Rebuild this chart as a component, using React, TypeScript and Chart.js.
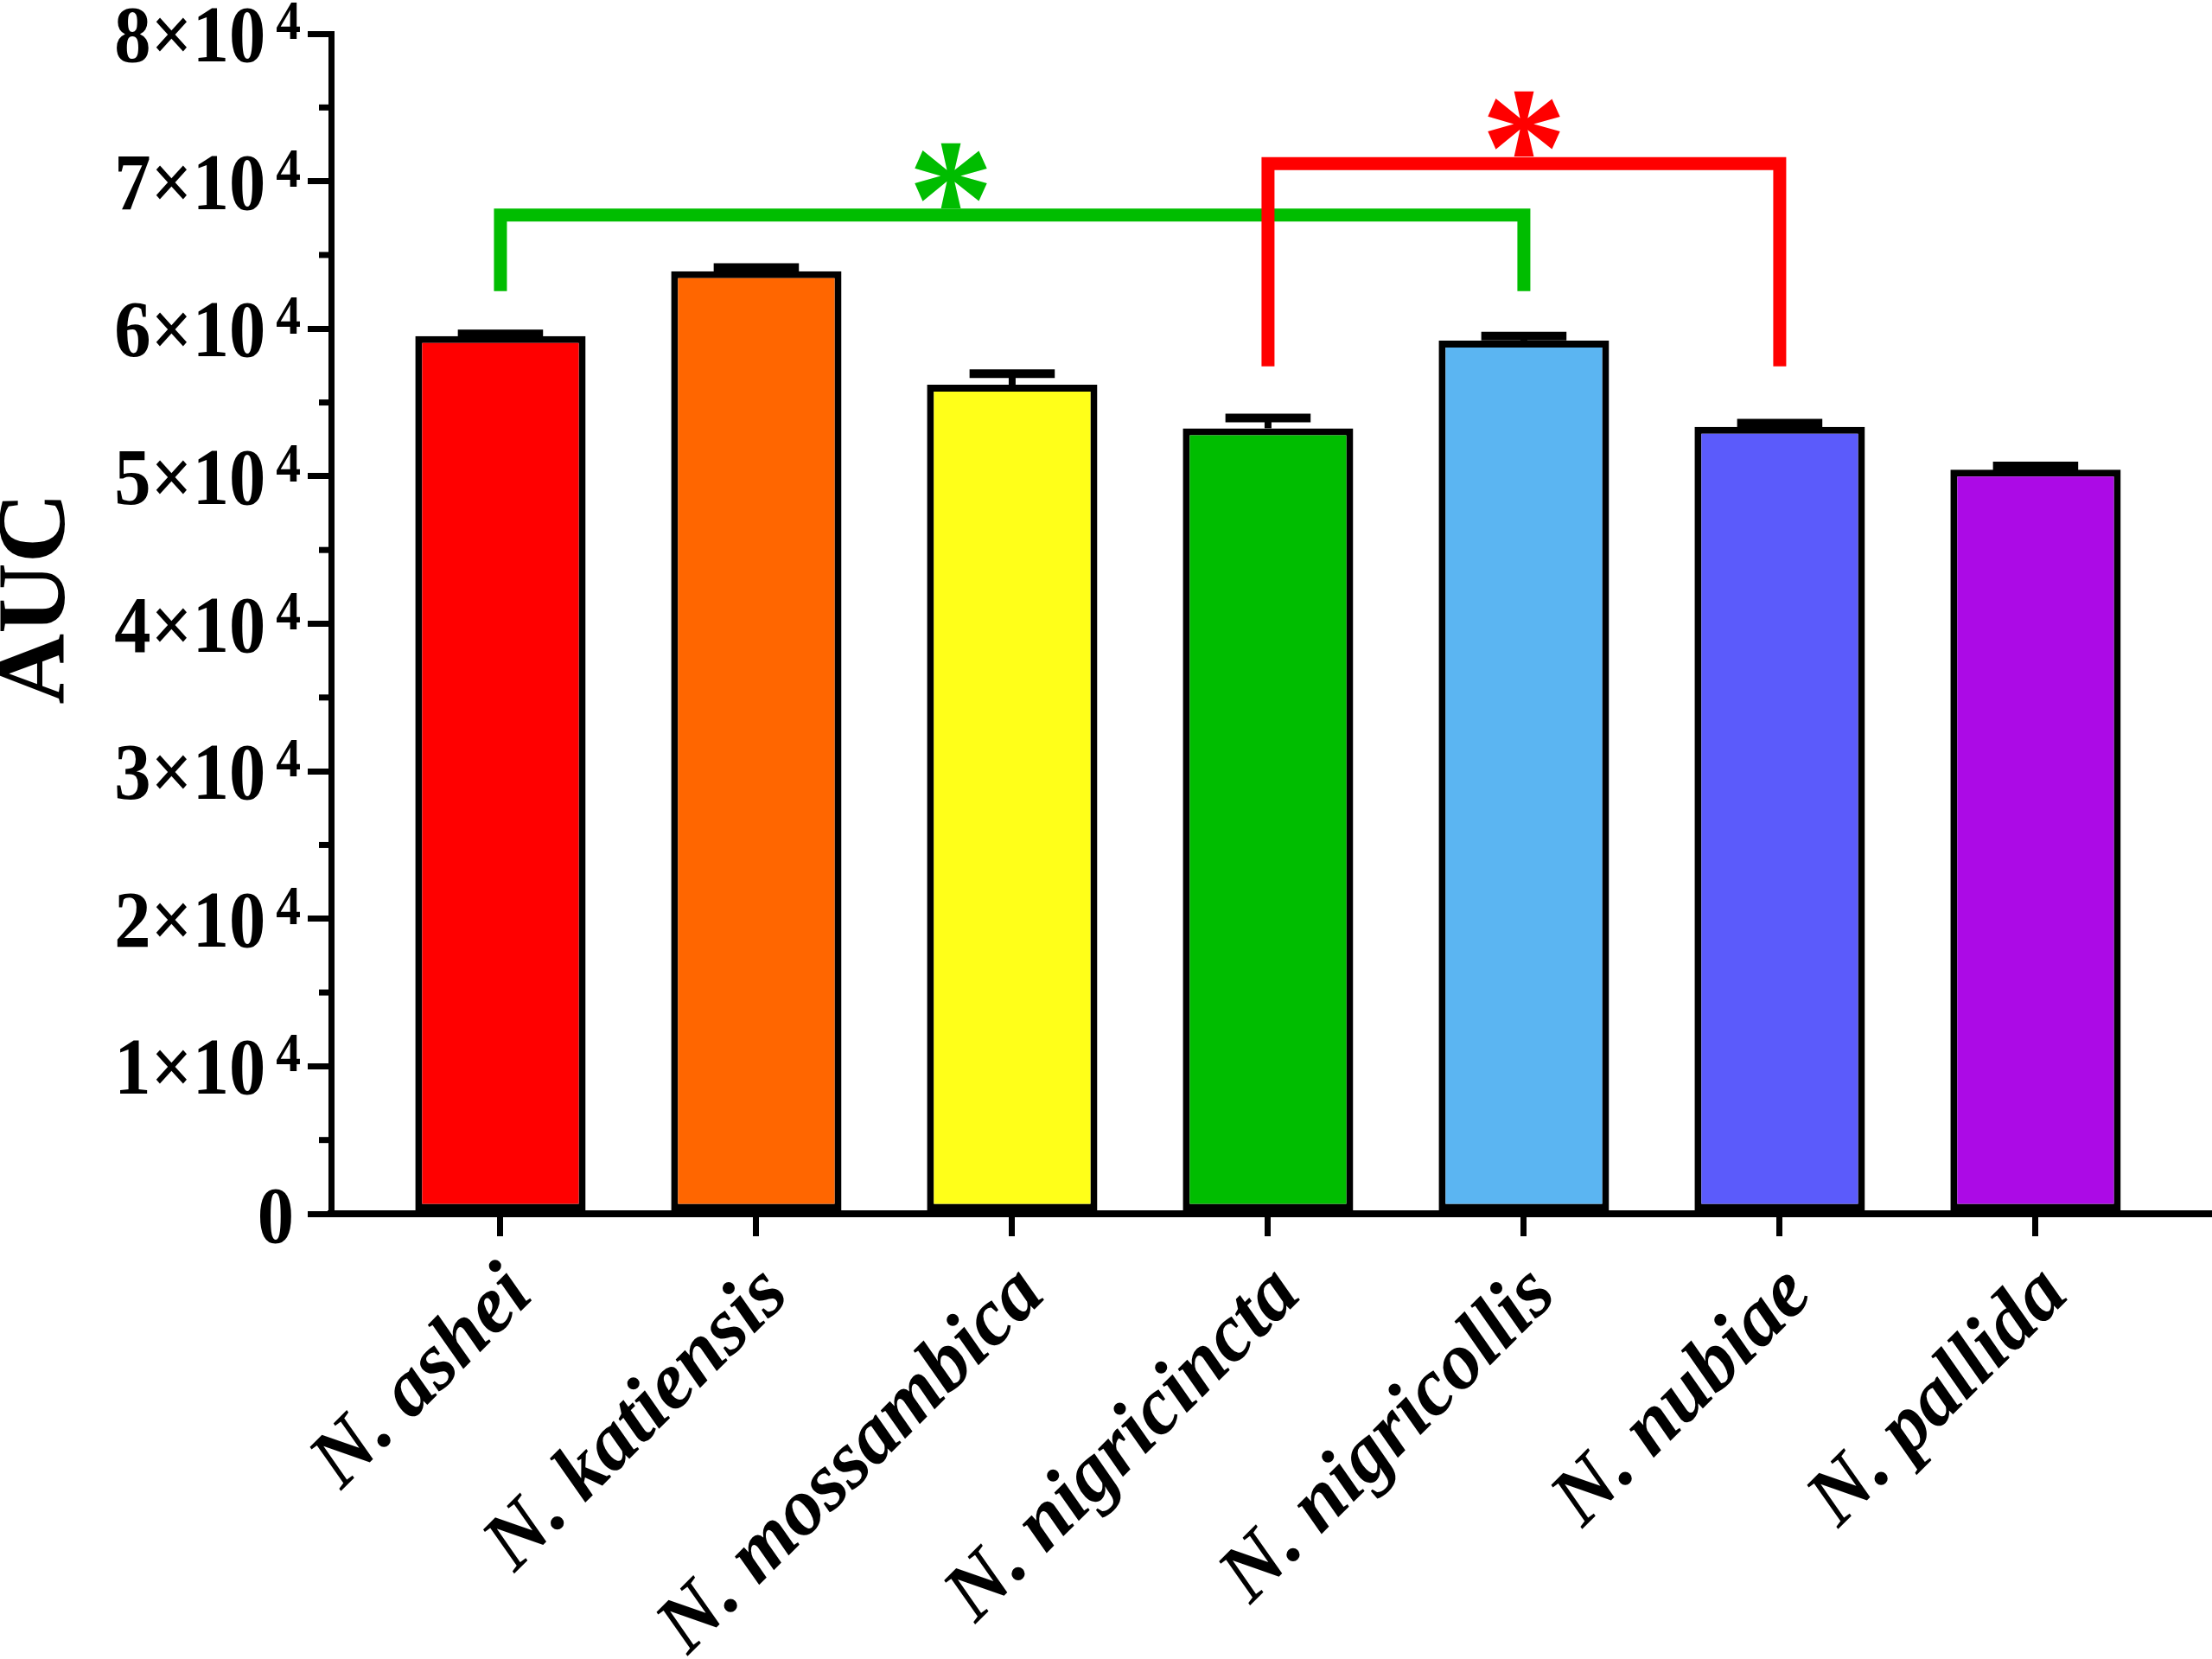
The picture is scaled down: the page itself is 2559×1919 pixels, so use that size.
import React, { useEffect, useRef } from 'react';
import { Chart, registerables } from 'chart.js';

Chart.register(...registerables);

const categories = [
  'N. ashei',
  'N. katiensis',
  'N. mossambica',
  'N. nigricincta',
  'N. nigricollis',
  'N. nubiae',
  'N. pallida',
];
const aucMeans = [59500, 63900, 56200, 53250, 59200, 53350, 50450];
const aucErrors = [150, 250, 750, 700, 300, 250, 250];
const barColors = ['#FF0000', '#FF6600', '#FFFF19', '#00BD00', '#5BB5F2', '#5B5BFB', '#AC0AE6'];

const yTickValues = [0, 10000, 20000, 30000, 40000, 50000, 60000, 70000, 80000];
const yMinorTicks = [5000, 15000, 25000, 35000, 45000, 55000, 65000, 75000];

// significance brackets (category indices + AUC values)
const bracketFrom = [0, 3];
const bracketTo = [4, 5];
const bracketTop = [67700, 71200];
const bracketLegEnd = [62550, 57450];
const starAt = [1.76, 4];
const bracketColors = ['#00BD00', '#FF0000'];

const FONT = '"Liberation Serif", "Times New Roman", serif';

// draw text right-aligned at (x, y), squeezed along the text direction
function squeezedText(
  ctx: CanvasRenderingContext2D,
  text: string,
  x: number,
  y: number,
  sx: number,
  angle = 0,
  baseline: CanvasTextBaseline = 'alphabetic'
) {
  ctx.save();
  ctx.translate(x, y);
  if (angle) ctx.rotate(angle);
  ctx.scale(sx, 1);
  ctx.textAlign = 'right';
  ctx.textBaseline = baseline;
  ctx.fillText(text, 0, 0);
  ctx.restore();
}

const extrasPlugin = {
  id: 'extras',
  afterDatasetsDraw(chart: any) {
    const ctx = chart.ctx as CanvasRenderingContext2D;
    const xs = chart.scales.x;
    const ys = chart.scales.y;
    const area = chart.chartArea;
    const meta = chart.getDatasetMeta(0);

    ctx.save();
    ctx.strokeStyle = '#000';
    ctx.lineCap = 'butt';

    // error bars (upper only)
    meta.data.forEach((bar: any, i: number) => {
      const yMean = ys.getPixelForValue(aucMeans[i]);
      const yTop = ys.getPixelForValue(aucMeans[i] + aucErrors[i]);
      ctx.lineWidth = 8;
      ctx.beginPath();
      ctx.moveTo(bar.x, yMean);
      ctx.lineTo(bar.x, yTop);
      ctx.stroke();
      ctx.lineWidth = 10;
      ctx.beginPath();
      ctx.moveTo(bar.x - bar.width / 4, yTop);
      ctx.lineTo(bar.x + bar.width / 4, yTop);
      ctx.stroke();
    });

    // minor ticks on y axis
    ctx.lineWidth = 7;
    yMinorTicks.forEach((v) => {
      const py = ys.getPixelForValue(v);
      ctx.beginPath();
      ctx.moveTo(area.left - 14, py);
      ctx.lineTo(area.left, py);
      ctx.stroke();
    });

    ctx.fillStyle = '#000';

    // y tick labels with superscript exponent
    ctx.font = `bold 94px ${FONT}`;
    const ySx = 175 / ctx.measureText('5×10').width;
    const labelRight = area.left - 35;
    yTickValues.forEach((v) => {
      const py = ys.getPixelForValue(v);
      if (v === 0) {
        ctx.font = `bold 94px ${FONT}`;
        squeezedText(ctx, '0', area.left - 43, py + 33, ySx);
        return;
      }
      ctx.font = `bold 64px ${FONT}`;
      squeezedText(ctx, '4', labelRight, py + 6, ySx);
      const supW = ctx.measureText('4').width * ySx;
      ctx.font = `bold 94px ${FONT}`;
      squeezedText(ctx, `${v / 10000}×10`, labelRight - supW - 12, py + 32, ySx);
    });

    // x category labels, rotated 45 degrees
    ctx.font = `italic bold 94px ${FONT}`;
    const xSx = 535 / ctx.measureText('N. nigricincta').width;
    categories.forEach((name, i) => {
      const px = xs.getPixelForValue(i);
      squeezedText(ctx, name, px + 23, area.bottom + 79, xSx, -Math.PI / 4, 'middle');
    });

    // axis title
    ctx.save();
    ctx.translate(45, 692);
    ctx.rotate(-Math.PI / 2);
    ctx.textAlign = 'center';
    ctx.textBaseline = 'middle';
    ctx.font = `bold 113px ${FONT}`;
    ctx.fillText('AUC', 0, 0);
    ctx.restore();

    // brackets
    ctx.lineWidth = 15;
    ctx.lineJoin = 'miter';
    bracketFrom.forEach((from, i) => {
      const x1 = xs.getPixelForValue(from);
      const x2 = xs.getPixelForValue(bracketTo[i]);
      const yT = ys.getPixelForValue(bracketTop[i]);
      const yL = ys.getPixelForValue(bracketLegEnd[i]);
      ctx.strokeStyle = bracketColors[i];
      ctx.beginPath();
      ctx.moveTo(x1, yL);
      ctx.lineTo(x1, yT);
      ctx.lineTo(x2, yT);
      ctx.lineTo(x2, yL);
      ctx.stroke();

      ctx.fillStyle = bracketColors[i];
      ctx.font = `bold 200px ${FONT}`;
      ctx.textAlign = 'center';
      ctx.textBaseline = 'alphabetic';
      const m = ctx.measureText('*');
      const bottom = yT - 8;
      ctx.fillText('*', xs.getPixelForValue(starAt[i]), bottom - m.actualBoundingBoxDescent);
    });

    ctx.restore();
  },
};

const App: React.FC = () => {
  const canvasRef = useRef<HTMLCanvasElement>(null);
  const chartRef = useRef<Chart | null>(null);

  useEffect(() => {
    document.body.style.margin = '0';
    document.body.style.overflow = 'hidden';
    let cancelled = false;

    const build = () => {
      if (cancelled || !canvasRef.current) return;
      const ctx = canvasRef.current.getContext('2d');
      if (!ctx) return;
      if (chartRef.current) chartRef.current.destroy();

      chartRef.current = new Chart(ctx, {
        type: 'bar',
        data: {
          datasets: [
            {
              label: 'AUC',
              data: aucMeans.map((v, i) => ({ x: i, y: v })),
              backgroundColor: barColors,
              borderColor: '#000',
              borderWidth: 8,
              borderSkipped: false,
              categoryPercentage: 1,
              barPercentage: 0.666,
            },
          ],
        },
        options: {
          responsive: false,
          animation: false,
          devicePixelRatio: 1,
          layout: { padding: { top: 39, right: 4, left: 0, bottom: 0 } },
          plugins: {
            legend: { display: false },
            tooltip: { enabled: false },
            title: { display: false },
          },
          scales: {
            x: {
              type: 'linear',
              min: -0.662,
              max: 6.676,
              offset: false,
              afterBuildTicks: (scale: any) => {
                scale.ticks = categories.map((_, i) => ({ value: i }));
              },
              afterFit: (scale: any) => {
                scale.height = 1919 - 1404;
                scale.paddingLeft = 0;
                scale.paddingRight = 0;
              },
              grid: {
                display: true,
                offset: false,
                drawOnChartArea: false,
                drawTicks: true,
                tickLength: 26,
                lineWidth: 7,
                tickWidth: 7,
                color: '#000',
                tickColor: '#000',
              },
              border: { display: true, color: '#000', width: 8 },
              ticks: { display: false, autoSkip: false },
            },
            y: {
              type: 'linear',
              min: 0,
              max: 80000,
              afterBuildTicks: (scale: any) => {
                scale.ticks = yTickValues.map((v) => ({ value: v }));
              },
              afterFit: (scale: any) => {
                scale.width = 383;
                scale.paddingTop = 0;
                scale.paddingBottom = 0;
              },
              grid: {
                display: true,
                drawOnChartArea: false,
                drawTicks: true,
                tickLength: 27,
                lineWidth: 7,
                tickWidth: 7,
                color: '#000',
                tickColor: '#000',
              },
              border: { display: true, color: '#000', width: 7 },
              ticks: { display: false },
            },
          },
        },
        plugins: [extrasPlugin],
      });
    };

    const fonts = (document as any).fonts;
    if (fonts && fonts.load) {
      Promise.all([
        fonts.load(`bold 94px ${FONT}`),
        fonts.load(`italic bold 94px ${FONT}`),
      ])
        .catch(() => undefined)
        .then(build);
    } else {
      build();
    }

    return () => {
      cancelled = true;
      if (chartRef.current) {
        chartRef.current.destroy();
        chartRef.current = null;
      }
    };
  }, []);

  return (
    <div style={{ width: 2559, height: 1919, background: '#fff' }}>
      <canvas ref={canvasRef} width={2559} height={1919} />
    </div>
  );
};

export default App;
